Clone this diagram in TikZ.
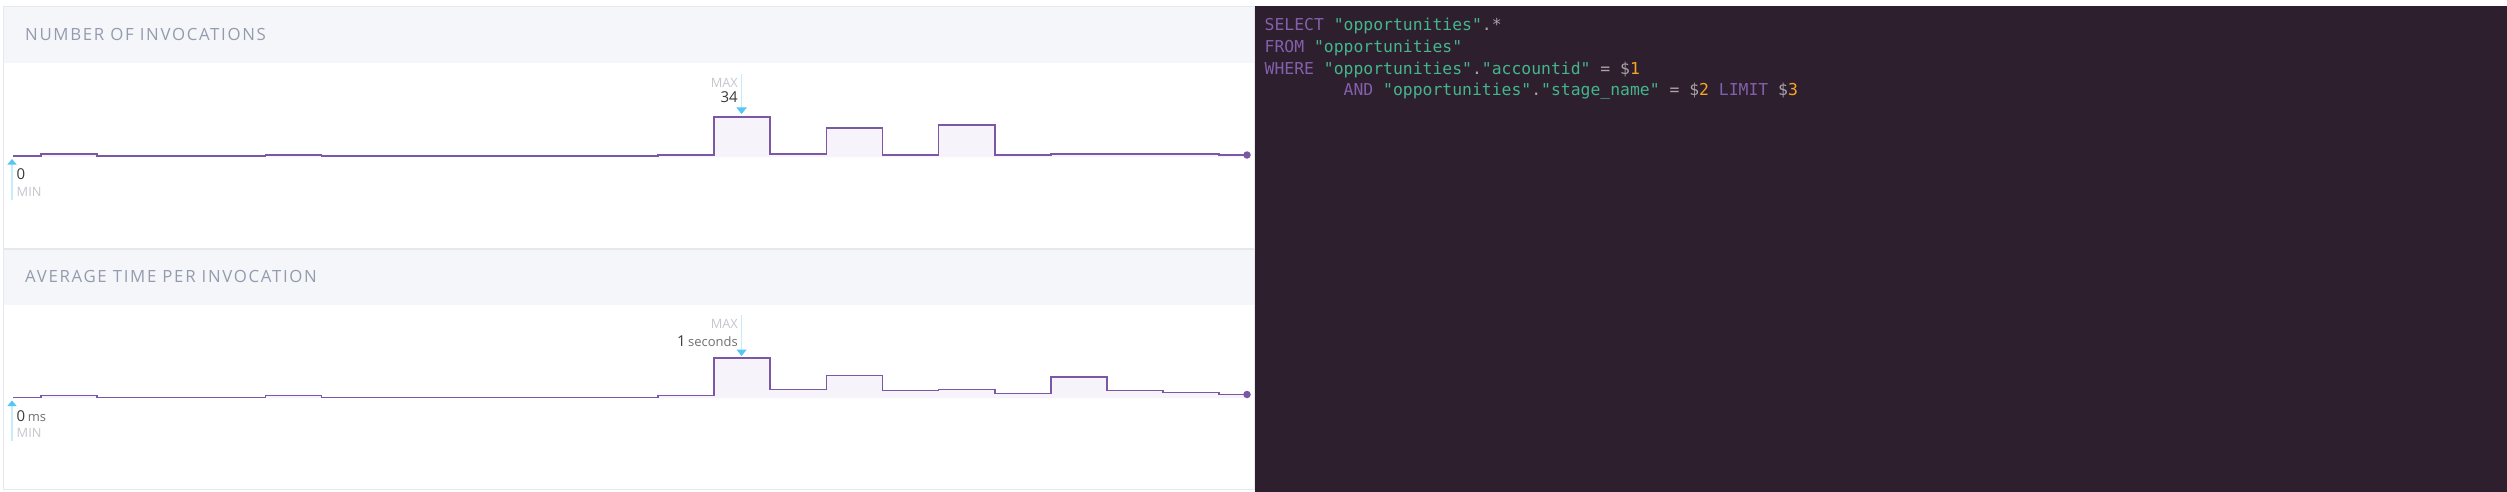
\documentclass[tikz,border=0pt]{standalone}
\usepackage{fontspec}
\setmainfont{Open Sans}
\newfontfamily\titlefont[LetterSpace=10]{Open Sans}
\newfontfamily\codefont{DejaVu Sans Mono}
\usetikzlibrary{arrows.meta}
\definecolor{hdrc}{HTML}{F5F6FA}
\definecolor{borderc}{HTML}{E6E8EE}
\definecolor{titlec}{HTML}{939CAE}
\definecolor{linec}{HTML}{7B58A6}
\definecolor{areac}{HTML}{F6F3FA}
\definecolor{stemc}{HTML}{C4ECFB}
\definecolor{headc}{HTML}{56C6F3}
\definecolor{faintc}{HTML}{C6C6CE}
\definecolor{valc}{HTML}{3A3A3A}
\definecolor{unitc}{HTML}{707070}
\definecolor{darkc}{HTML}{2E1F2E}
\definecolor{kwc}{HTML}{8260AB}
\definecolor{strc}{HTML}{43B68B}
\definecolor{opc}{HTML}{A9A5A9}
\definecolor{numc}{HTML}{F5A623}
\def\toplist{41/154, 97.1/156, 153.2/156, 209.3/156, 265.4/155, 321.5/156, 377.6/156, 433.7/156, 489.8/156, 545.9/156, 602.0/156, 658.1/155, 714.2/117, 770.3/154, 826.4/128, 882.5/155, 938.6/125, 994.7/155, 1050.8/154, 1106.9/154, 1163.0/154, 1219.1/155}
\def\botlist{41/395.5, 97.1/397.5, 153.2/397.5, 209.3/397.5, 265.4/395.5, 321.5/397.5, 377.6/397.5, 433.7/397.5, 489.8/397.5, 545.9/397.5, 602.0/397.5, 658.1/395.5, 714.2/358, 770.3/389.5, 826.4/375.5, 882.5/390.5, 938.6/389.5, 994.7/393.5, 1050.8/377, 1106.9/390.5, 1163.0/392.5, 1219.1/394.5}
\begin{document}
\begin{tikzpicture}[x=1pt,y=-1pt,
  cardline/.style={draw=borderc, line width=1pt},
  hdrband/.style={fill=hdrc},
  title/.style={anchor=base west, inner sep=0, text=titlec, font=\titlefont\fontsize{16.8pt}{20pt}\selectfont},
  chartline/.style={draw=linec, line width=1.7pt, line join=miter},
  area/.style={fill=areac},
  enddot/.style={circle, fill=linec, inner sep=0, minimum size=7.5pt},
  maxstem/.style={draw=stemc, line width=1.4pt, -{Triangle[width=10pt,length=6.5pt,color=headc]}},
  minstem/.style={draw=stemc, line width=1.1pt, {Triangle[width=9pt,length=5.5pt,color=headc]}-},
  faint/.style={inner sep=0, text=faintc, font=\fontsize{12.8pt}{14pt}\selectfont},
  val/.style={inner sep=0, text=valc, font=\fontsize{15pt}{16pt}\selectfont},
  code/.style={anchor=base west, inner sep=0, font=\codefont\fontsize{16.4pt}{20pt}\selectfont}
]
\useasboundingbox (0,0) rectangle (2507,492);
\fill[white] (0,0) rectangle (2507,492);
% left cards
\fill[hdrband] (4,6.5) rectangle (1254,63);
\draw[cardline] (3.5,6.5) rectangle (1254,248.5);
\fill[hdrband] (4,249.5) rectangle (1254,305);
\draw[cardline] (3.5,249.5) rectangle (1254,489.5);
\node[title] (t1) at (25,41) {NUMBER OF INVOCATIONS};
\node[title] (t2) at (25,282) {AVERAGE TIME PER INVOCATION};
% top chart
\fill[area] (13,157) -- (13,156) foreach \x/\y in \toplist { -| (\x,\y) } -- (1247,155) -- (1247,157) -- cycle;
\draw[chartline] (13,156) foreach \x/\y in \toplist { -| (\x,\y) } -- (1247,155);
\node[enddot] (topend) at (1247,155) {};
% bottom chart
\fill[area] (13,398) -- (13,397.5) foreach \x/\y in \botlist { -| (\x,\y) } -- (1247,394.5) -- (1247,398) -- cycle;
\draw[chartline] (13,397.5) foreach \x/\y in \botlist { -| (\x,\y) } -- (1247,394.5);
\node[enddot] (botend) at (1247,394.5) {};
% max markers
\coordinate (tmaxa) at (741.6,74);
\coordinate (tmaxb) at (741.6,114);
\draw[maxstem] (tmaxa) -- (tmaxb);
\node[faint, anchor=base east] (tmaxlbl) at (738,87.5) {MAX};
\node[val, anchor=base east] (tmaxval) at (738,103) {34};
\coordinate (bmaxa) at (741.6,315);
\coordinate (bmaxb) at (741.6,356);
\draw[maxstem] (bmaxa) -- (bmaxb);
\node[faint, anchor=base east] (bmaxlbl) at (738,328.8) {MAX};
\node[val, anchor=base east] (bmaxval) at (738,346) {1\,{\color{unitc}\fontsize{13pt}{14pt}\selectfont seconds}};
% min markers
\coordinate (tmina) at (12,159);
\coordinate (tminb) at (12,200);
\draw[minstem] (tmina) -- (tminb);
\node[val, anchor=base west] (tminval) at (16.5,179.5) {0};
\node[faint, anchor=base west] (tminlbl) at (16.5,196.8) {MIN};
\coordinate (bmina) at (12,400.5);
\coordinate (bminb) at (12,441);
\draw[minstem] (bmina) -- (bminb);
\node[val, anchor=base west] (bminval) at (16.5,421.8) {0\,{\color{unitc}\fontsize{13pt}{14pt}\selectfont ms}};
\node[faint, anchor=base west] (bminlbl) at (16.5,437.5) {MIN};
% SQL panel
\fill[darkc] (1255,6) rectangle (2507,492);
\node[code] (q1) at (1264.5,31) {\textcolor{kwc}{SELECT} \textcolor{strc}{"opportunities"}\textcolor{opc}{.*}};
\node[code] (q2) at (1264.5,52.7) {\textcolor{kwc}{FROM} \textcolor{strc}{"opportunities"}};
\node[code] (q3) at (1264.5,74.3) {\textcolor{kwc}{WHERE} \textcolor{strc}{"opportunities"}\textcolor{opc}{.}\textcolor{strc}{"accountid"} \textcolor{opc}{= \$}\textcolor{numc}{1}};
\node[code] (q4) at (1343.5,96) {\textcolor{kwc}{AND} \textcolor{strc}{"opportunities"}\textcolor{opc}{.}\textcolor{strc}{"stage\_name"} \textcolor{opc}{= \$}\textcolor{numc}{2} \textcolor{kwc}{LIMIT} \textcolor{opc}{\$}\textcolor{numc}{3}};
\end{tikzpicture}
\end{document}
